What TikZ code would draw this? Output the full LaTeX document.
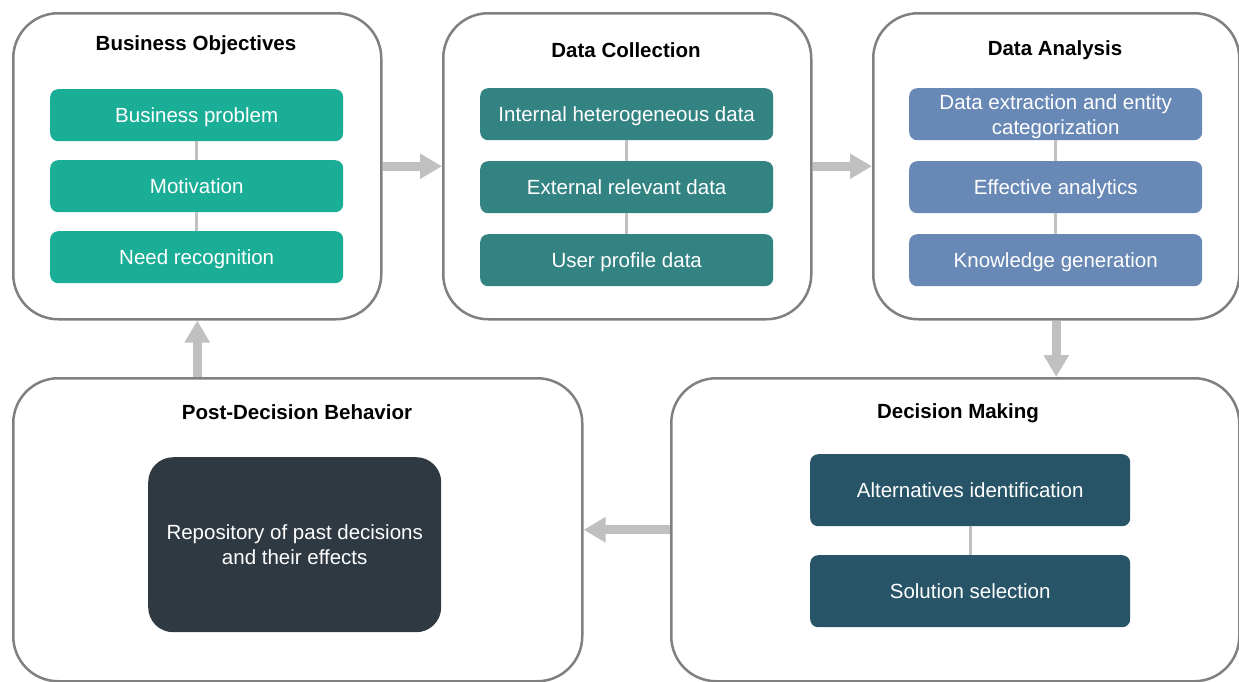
\documentclass[tikz,border=0pt]{standalone}
\usepackage{fontspec}
\setmainfont{Liberation Sans}
\usetikzlibrary{arrows.meta}
\definecolor{bord}{HTML}{808080}
\definecolor{arrowgray}{HTML}{C0C0C0}
\definecolor{cteal}{HTML}{1AAE96}
\definecolor{cdteal}{HTML}{338383}
\definecolor{cblue}{HTML}{6888B5}
\definecolor{cnavy}{HTML}{285468}
\definecolor{cdark}{HTML}{2F3942}
\begin{document}
\begin{tikzpicture}[x=1pt,y=-1pt,
  outer/.style={draw=bord,line width=2.5pt,rounded corners=45pt,anchor=north west,inner sep=0pt,fill=white},
  inbox/.style={anchor=north west,rounded corners=8pt,minimum width=293pt,minimum height=52pt,inner sep=0pt,text=white,font=\fontsize{20.5}{25}\selectfont,align=center,text depth=0pt},
  title/.style={font=\bfseries\fontsize{20.5}{25}\selectfont,text=black},
  conn/.style={draw=arrowgray,line width=3pt},
  bigarrow/.style={draw=arrowgray,line width=9pt,-{Triangle[length=22pt,width=24pt]}}
]
\useasboundingbox (0,0) rectangle (1239,681);
% outer boxes
\node[outer,minimum width=368pt,minimum height=306pt] (bo) at (12,12) {};
\node[outer,minimum width=368pt,minimum height=306pt] (dc) at (442,12) {};
\node[outer,minimum width=366pt,minimum height=306pt] (da) at (872,12) {};
\node[outer,minimum width=569pt,minimum height=303pt] (pd) at (12,377) {};
\node[outer,minimum width=568pt,minimum height=303pt] (dm) at (670,377) {};
% titles
\node[title] (t1) at (196,45) {Business Objectives};
\node[title] (t2) at (626,50) {Data Collection};
\node[title] (t3) at (1055,50) {Data Analysis};
\node[title] (t4) at (297,412) {Post-Decision Behavior};
\node[title] (t5) at (958,413) {Decision Making};
% inner boxes
\node[inbox,fill=cteal] (bo1) at (50,89) {Business problem};
\node[inbox,fill=cteal] (bo2) at (50,160) {Motivation};
\node[inbox,fill=cteal] (bo3) at (50,231) {Need recognition};
\node[inbox,fill=cdteal] (dc1) at (480,88) {Internal heterogeneous data};
\node[inbox,fill=cdteal] (dc2) at (480,161) {External relevant data};
\node[inbox,fill=cdteal] (dc3) at (480,234) {User profile data};
\node[inbox,fill=cblue] (da1) at (909,88) {Data extraction and entity\\categorization};
\node[inbox,fill=cblue] (da2) at (909,161) {Effective analytics};
\node[inbox,fill=cblue] (da3) at (909,234) {Knowledge generation};
\node[inbox,fill=cnavy,minimum width=320pt,minimum height=72pt] (dm1) at (810,454) {Alternatives identification};
\node[inbox,fill=cnavy,minimum width=320pt,minimum height=72pt] (dm2) at (810,555) {Solution selection};
\node[inbox,fill=cdark,minimum width=293pt,minimum height=175pt,rounded corners=25pt] (pd1) at (148,457) {Repository of past decisions\\and their effects};
% inner connectors
\draw[conn] (bo1.south) -- (bo2.north);
\draw[conn] (bo2.south) -- (bo3.north);
\draw[conn] (dc1.south) -- (dc2.north);
\draw[conn] (dc2.south) -- (dc3.north);
\draw[conn] (da1.south) -- (da2.north);
\draw[conn] (da2.south) -- (da3.north);
\draw[conn] (dm1.south) -- (dm2.north);
% big arrows
\draw[bigarrow] (bo.east) -- (dc.west);
\draw[bigarrow] (dc.east) -- (da.west);
\draw[bigarrow] (da.south) -- (da.south |- dm.north);
\draw[bigarrow] (dm.west) -- (pd.east);
\draw[bigarrow] (pd.north -| bo.south) -- (bo.south);
\end{tikzpicture}
\end{document}
